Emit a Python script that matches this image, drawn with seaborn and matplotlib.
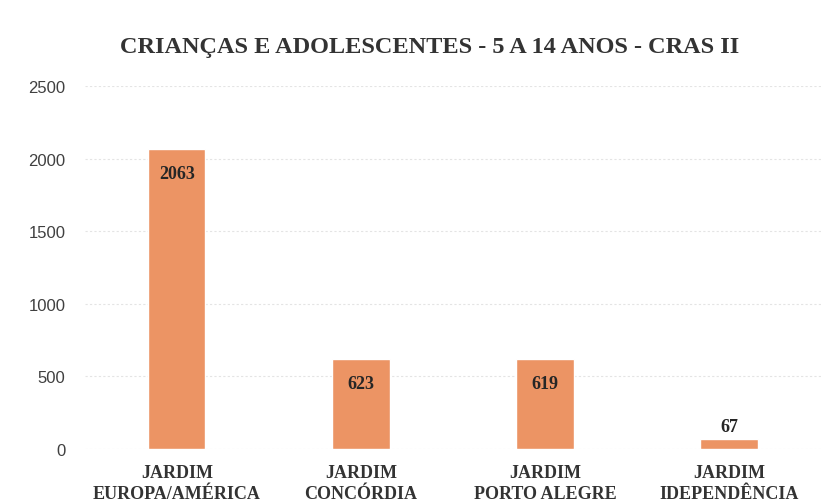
import matplotlib
matplotlib.use("Agg")
import matplotlib.pyplot as plt
import seaborn as sns
import pandas as pd

categories = ["JARDIM\nEUROPA/AMÉRICA", "JARDIM\nCONCÓRDIA", "JARDIM\nPORTO ALEGRE", "JARDIM\nIDEPENDÊNCIA"]
values = [2063, 623, 619, 67]
yticks = [0, 500, 1000, 1500, 2000, 2500]

sns.set_theme(style="white")
plt.rcParams['font.family'] = ['Liberation Sans', 'DejaVu Sans']

df = pd.DataFrame({"cat": categories, "val": values})

fig = plt.figure(figsize=(8.33, 5.02), dpi=100)
ax = fig.add_axes([0.102, 0.1036, 0.8836, 0.7231])
sns.barplot(data=df, x="cat", y="val", color="#EC9464", saturation=1, width=0.31, ax=ax)
ax.set_xlim(-0.5, 3.5)
ax.set_ylim(0, 2500)
ax.set_yticks(yticks)
ax.set_yticklabels([str(t) for t in yticks], fontsize=12, color="#404040")
ax.yaxis.grid(True, color="#e4e4e4", linestyle=(0, (2, 2)), linewidth=0.8)
ax.set_axisbelow(True)
ax.set_xlabel("")
ax.set_ylabel("")
for s in ax.spines.values():
    s.set_visible(False)
ax.tick_params(axis="y", length=0, pad=14)
ax.tick_params(axis="x", length=0, pad=11)
for lbl in ax.get_xticklabels():
    lbl.set_fontfamily("Liberation Serif")
    lbl.set_fontweight("bold")
    lbl.set_fontsize(13)
    lbl.set_color("#333333")
    lbl.set_linespacing(1.25)

for i, v in enumerate(values):
    if v > 300:
        ax.text(i, v - 110, str(v), ha="center", va="top", fontsize=13,
                fontweight="bold", family="Liberation Serif", color="#262626")
    else:
        ax.text(i, v + 30, str(v), ha="center", va="bottom", fontsize=13,
                fontweight="bold", family="Liberation Serif", color="#262626")

fig.text(0.516, 0.905, "CRIANÇAS E ADOLESCENTES - 5 A 14 ANOS - CRAS II", ha="center",
         va="center", fontsize=17.5, fontweight="bold", family="Liberation Serif", color="#333333")

fig.savefig("out.png", dpi=100)
